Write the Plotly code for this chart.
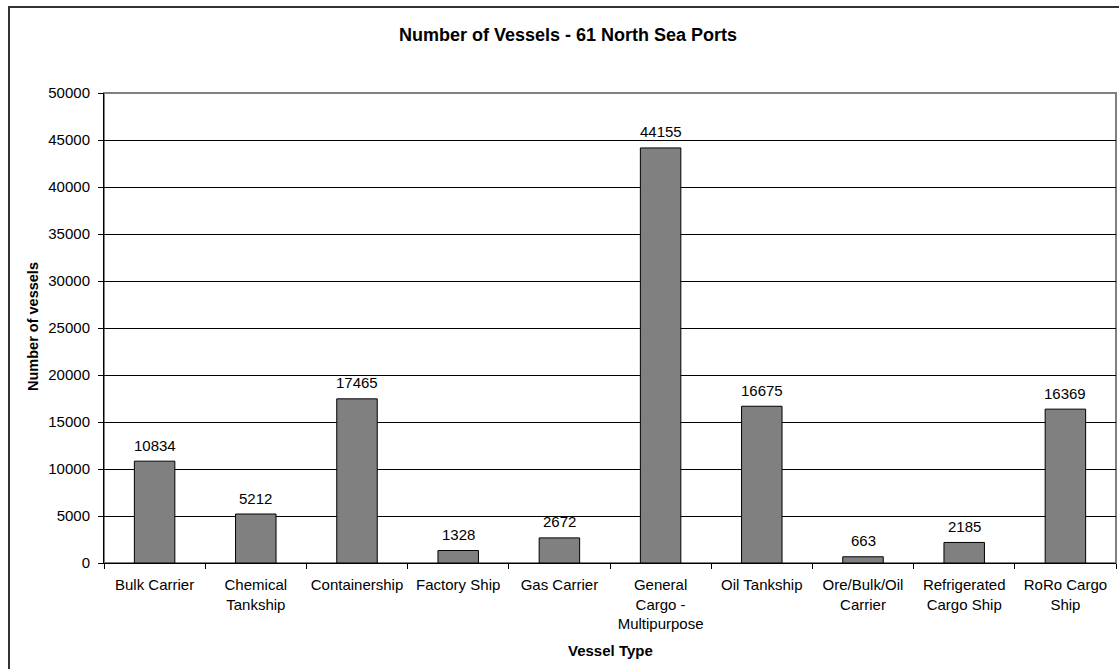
import plotly.graph_objects as go

categories = ["Bulk Carrier", "Chemical<br>Tankship", "Containership", "Factory Ship", "Gas Carrier",
              "General<br>Cargo -<br>Multipurpose", "Oil Tankship", "Ore/Bulk/Oil<br>Carrier",
              "Refrigerated<br>Cargo Ship", "RoRo Cargo<br>Ship"]
values = [10834, 5212, 17465, 1328, 2672, 44155, 16675, 663, 2185, 16369]
y_ticks = list(range(0, 50001, 5000))

FONT = "Liberation Sans, Arial, sans-serif"
W, H = 1119, 669
L, R, T, B = 104, 1116, 93, 563

fig = go.Figure()
fig.add_trace(go.Bar(
    x=categories, y=values, width=0.4,
    marker=dict(color="#808080", line=dict(color="black", width=1)),
    hoverinfo="x+y",
))

annotations = []
for c, v in zip(categories, values):
    annotations.append(dict(x=c, y=v, xref="x", yref="y", text=str(v), showarrow=False,
                            yanchor="middle", yshift=16, font=dict(family=FONT, size=15, color="black")))

def px_x(p):
    return (p - L) / (R - L)

def px_y(p):
    return (B - p) / (B - T)

annotations.append(dict(text="<b>Number of Vessels - 61 North Sea Ports</b>", xref="paper", yref="paper",
                        x=px_x(568), y=px_y(35), xanchor="center", yanchor="middle", showarrow=False,
                        font=dict(family=FONT, size=18, color="black")))
annotations.append(dict(text="<b>Vessel Type</b>", xref="paper", yref="paper",
                        x=px_x(610), y=px_y(650), xanchor="center", yanchor="middle", showarrow=False,
                        font=dict(family=FONT, size=15, color="black")))
annotations.append(dict(text="<b>Number of vessels</b>", xref="paper", yref="paper", textangle=-90,
                        x=px_x(33), y=px_y(327), xanchor="center", yanchor="middle", showarrow=False,
                        font=dict(family=FONT, size=14.5, color="black")))

shapes = [
    dict(type="rect", xref="paper", yref="paper", x0=0, x1=1, y0=0, y1=1,
         line=dict(color="#808080", width=2), layer="below"),
    dict(type="rect", xref="paper", yref="paper", x0=px_x(9), x1=px_x(1125), y0=px_y(7), y1=px_y(680),
         line=dict(color="#333333", width=2), layer="below"),
]

fig.update_layout(
    width=W, height=H,
    margin=dict(l=L, r=W - R, t=T, b=H - B),
    paper_bgcolor="white", plot_bgcolor="white",
    showlegend=False,
    font=dict(family=FONT, size=15, color="black"),
    annotations=annotations,
    shapes=shapes,
    xaxis=dict(
        type="category", tickson="boundaries", ticks="outside", ticklen=5, tickcolor="black",
        tickangle=0, ticklabelstandoff=8,
        showline=True, linecolor="black", linewidth=1, showgrid=False,
        tickfont=dict(family=FONT, size=15, color="black"), fixedrange=True,
    ),
    yaxis=dict(
        range=[0, 50000], tickvals=y_ticks, ticktext=[str(t) for t in y_ticks],
        ticks="outside", ticklen=5, tickcolor="black", ticklabelstandoff=5,
        showline=True, linecolor="black", linewidth=1,
        showgrid=True, gridcolor="black", gridwidth=1, zeroline=False,
        tickfont=dict(family=FONT, size=15, color="black"), fixedrange=True,
    ),
)

fig.write_html("out.html")
